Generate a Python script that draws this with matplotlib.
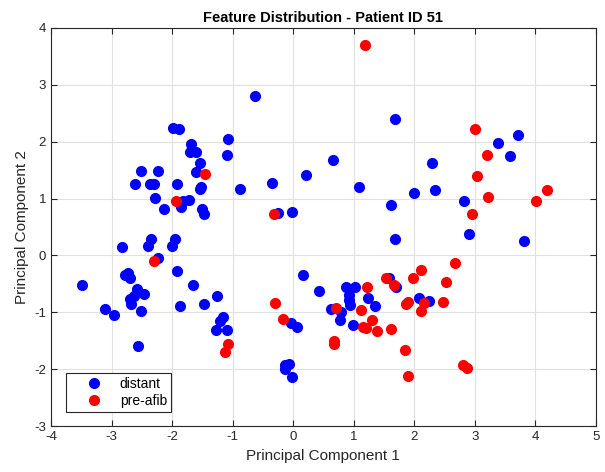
import numpy as np
import matplotlib.pyplot as plt

plt.rcParams['font.family'] = ['Liberation Sans', 'DejaVu Sans']
plt.rcParams['axes.unicode_minus'] = False

# PCA-Werte
distant_x = [-0.63, -1.98, -1.88, -1.08, -1.68, -1.70, -1.61, -1.09, -1.54, -2.51,
             -2.23, -1.61, -2.62, -2.36, -2.30, -1.92, -1.52, -1.54, -0.87, -2.28,
             -1.82, -1.72, -1.85, -2.14, -1.50, -1.47, -0.35, 0.21, -0.25, -0.01,
             1.69, 3.38, 3.71, 3.58, 0.66, 2.29, 1.09, 1.99, 2.34, 2.82,
             1.61, 2.90, 1.68, 3.81,
             -2.34, -2.40, -1.95, -2.00, -2.83, -2.24, -1.91, -3.48, -1.66, -2.72,
             -2.77, -2.70, -2.58, -2.47, -2.63, -2.69, -2.68, -2.52, -3.11, -2.96,
             -2.56, -1.87, -1.47, -1.26, -1.15, -1.21, -1.28, -1.09, 0.17, 0.43,
             -0.03, 0.07, -0.14, -0.07, -0.14, -0.02,
             0.88, 1.03, 0.92, 0.92, 0.94, 0.62, 0.80, 0.78, 0.99, 1.24,
             1.35, 1.59, 1.70, 2.08, 2.24]
distant_y = [2.80, 2.24, 2.22, 2.04, 1.95, 1.81, 1.81, 1.77, 1.62, 1.49,
             1.49, 1.47, 1.25, 1.25, 1.25, 1.25, 1.20, 1.16, 1.16, 1.01,
             0.96, 0.98, 0.86, 0.81, 0.81, 0.73, 1.28, 1.41, 0.75, 0.77,
             2.40, 1.98, 2.12, 1.75, 1.68, 1.62, 1.20, 1.09, 1.15, 0.96,
             0.89, 0.37, 0.29, 0.26,
             0.29, 0.17, 0.29, 0.17, 0.15, -0.05, -0.28, -0.52, -0.52, -0.30,
             -0.35, -0.39, -0.59, -0.67, -0.72, -0.77, -0.85, -0.98, -0.94, -1.05,
             -1.59, -0.89, -0.86, -0.71, -1.08, -1.15, -1.31, -1.30, -0.35, -0.62,
             -1.19, -1.25, -1.93, -1.91, -2.00, -2.14,
             -0.56, -0.56, -0.70, -0.78, -0.87, -0.94, -0.99, -1.13, -1.22, -0.75,
             -0.88, -0.40, -0.55, -0.75, -0.80]

preafib_x = [-1.46, -1.93, -0.32, 1.19, 3.01, 3.21, 3.04, 3.22, 4.02, 4.19,
             2.95, -2.30, -0.30, -0.17, -1.07, -1.12,
             2.67, 2.12, 1.98, 1.53, 1.67, 2.52, 1.22, 0.71, 1.12, 1.30,
             1.16, 1.21, 1.38, 1.61, 1.90, 1.87, 2.16, 2.12, 2.48, 0.67,
             0.67, 1.85, 2.81, 2.87, 1.90]
preafib_y = [1.43, 0.96, 0.72, 3.69, 2.22, 1.77, 1.40, 1.03, 0.95, 1.15,
             0.72, -0.10, -0.83, -1.12, -1.55, -1.69,
             -0.13, -0.25, -0.39, -0.40, -0.52, -0.46, -0.56, -0.92, -0.95, -1.13,
             -1.26, -1.28, -1.33, -1.29, -0.81, -0.86, -0.84, -0.97, -0.82, -1.50,
             -1.56, -1.66, -1.92, -1.98, -2.11]

fig = plt.figure(figsize=(6.05, 4.72), dpi=100)
ax = fig.add_axes([0.0843, 0.0968, 0.9003, 0.8445])

ax.plot(distant_x, distant_y, 'o', color='#0000ff', ms=7, mec='#0000ff', label='distant')
ax.plot(preafib_x, preafib_y, 'o', color='#ff0000', ms=7, mec='#ff0000', label='pre-afib')

ax.set_xlim(-4, 5)
ax.set_ylim(-3, 4)
ax.set_xticks(np.arange(-4, 6, 1))
ax.set_yticks(np.arange(-3, 5, 1))
ax.grid(True, color='#e0e0e0', linewidth=0.8)
ax.set_axisbelow(True)
ax.tick_params(direction='in', top=True, right=True, labelsize=9.5, colors='#262626', length=4)
for s in ax.spines.values():
    s.set_color('#262626')
    s.set_linewidth(0.8)

ax.set_xlabel('Principal Component 1', fontsize=11, color='#262626')
ax.set_ylabel('Principal Component 2', fontsize=11, color='#262626')
ax.set_title('Feature Distribution - Patient ID 51', fontsize=10.5, fontweight='bold', pad=4)

leg = ax.legend(loc='lower left', bbox_to_anchor=(0.027, 0.036), borderaxespad=0,
                fontsize=10, fancybox=False, edgecolor='#262626', framealpha=1,
                borderpad=0.3, handlelength=3.5, handletextpad=0.1, labelspacing=0.2)
leg.get_frame().set_linewidth(0.8)

fig.savefig('out.png', dpi=100)
